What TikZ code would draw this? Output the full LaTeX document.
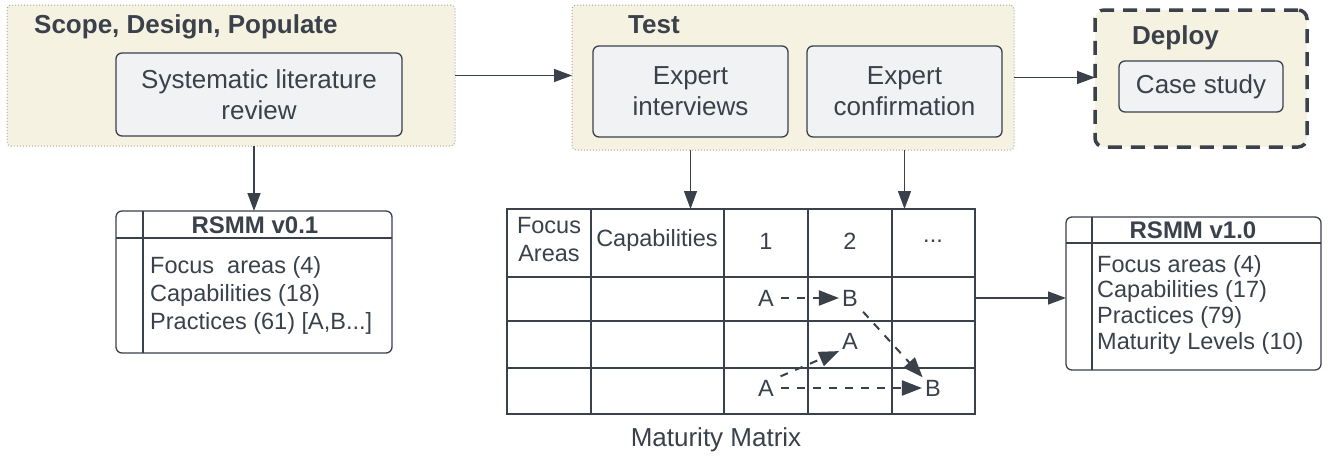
\documentclass[tikz,border=0pt]{standalone}
\usepackage{fontspec}
\setmainfont{Liberation Sans}
\usetikzlibrary{arrows.meta}
\definecolor{ink}{HTML}{3A414A}
\definecolor{stagefill}{HTML}{F6F2E2}
\definecolor{taskfill}{HTML}{F1F2F4}
\tikzset{
	stagebox/.style={draw=gray!70, dotted, fill=stagefill, rounded corners=4pt, line width=1pt, inner sep=0pt, outer sep=0pt},
	deploybox/.style={draw=ink, dash pattern=on 14pt off 9pt, fill=stagefill, rounded corners=9pt, line width=3.5pt, inner sep=0pt, outer sep=0pt},
	taskbox/.style={draw=ink, fill=taskfill, rounded corners=6pt, line width=1.3pt, align=center, text=ink, inner sep=0pt, outer sep=0pt, font=\fontsize{26}{31}\selectfont},
	modelbox/.style={draw=ink, rounded corners=6pt, line width=1.3pt, inner sep=0pt, outer sep=0pt},
	stagetitle/.style={anchor=west, text=ink, inner sep=0pt, font=\fontsize{26}{31}\selectfont\bfseries},
	modeltitle/.style={text=ink, font=\fontsize{24}{28}\selectfont\bfseries},
	modeltext/.style={anchor=north west, align=left, text=ink, inner sep=0pt, font=\fontsize{23.5}{#1}\selectfont},
	celltext/.style={text=ink, align=center, inner sep=1pt, font=\fontsize{23.5}{28}\selectfont},
	flow/.style={draw=ink, line width=1.4pt, -{Triangle[length=18pt,width=13pt]}},
	moveflow/.style={draw=ink, line width=2pt, dash pattern=on 8pt off 8pt, shorten <=6pt, shorten >=2pt, -{Triangle[length=20pt,width=15pt]}}
}
\begin{document}
\begin{tikzpicture}[x=1pt, y=-1pt]
	\useasboundingbox (0,0) rectangle (1335,459);
	\def\grid{2.5}
	
	%stages
	\node (stage1) [stagebox, minimum width=448, minimum height=141] at (231,75.5) {};
	\node (stage2) [stagebox, minimum width=442, minimum height=145] at (793,77.5) {};
	\node (deploy) [deploybox, minimum width=212, minimum height=137] at (1201,78.5) {};
	\node (t1) [stagetitle] at (34,27) {Scope, Design, Populate};
	\node (t2) [stagetitle] at (628,25) {Test};
	\node (t3) [stagetitle] at (1132,38) {Deploy};
	
	%tasks
	\node (slr) [taskbox, minimum width=286, minimum height=83] at (259,94.5) {Systematic literature\\review};
	\node (ei) [taskbox, minimum width=195, minimum height=91] at (690.5,91.5) {Expert\\interviews};
	\node (ec) [taskbox, minimum width=195, minimum height=91] at (904.5,91.5) {Expert\\confirmation};
	\node (cs) [taskbox, minimum width=164, minimum height=51] at (1201,86.5) {Case study};
	
	%model v0.1
	\node (v01) [modelbox, minimum width=276, minimum height=142] at (254,282) {};
	\draw [ink, line width=1.3pt] ([xshift=27]v01.north west) -- ([xshift=27]v01.south west);
	\draw [ink, line width=1.3pt] ([yshift=-27]v01.north west) -- ([yshift=-27]v01.north east);
	\node (v01title) [modeltitle] at (255,225) {RSMM v0.1};
	\node (v01text) [modeltext=28] at (150,256) {Focus\ \ areas (4)\\Capabilities (18)\\Practices (61) [A,B...]};
	
	%model v1.0
	\node (v10) [modelbox, minimum width=255, minimum height=153] at (1193.5,293.5) {};
	\draw [ink, line width=1.3pt] ([xshift=26]v10.north west) -- ([xshift=26]v10.south west);
	\draw [ink, line width=1.3pt] ([yshift=-26]v10.north west) -- ([yshift=-26]v10.north east);
	\node (v10title) [modeltitle] at (1193,230) {RSMM v1.0};
	\node (v10text) [modeltext=25.7] at (1097,255) {Focus areas (4)\\Capabilities (17)\\Practices (79)\\Maturity Levels (10)};
	
	%maturity matrix
	\node (mm) [draw=ink, line width=\grid pt, inner sep=0pt, outer sep=0pt, minimum width=468, minimum height=205] at (741,311.5) {};
	\foreach \x in {591,724,892} \draw [ink, line width=\grid pt] (\x,209) -- (\x,414);
	\draw [ink, line width=1.5pt] (808,209) -- (808,414);
	\foreach \y in {277,321,368} \draw [ink, line width=\grid pt] (507,\y) -- (975,\y);
	\node (hfa) [celltext] at (549,240) {Focus\\Areas};
	\node (hcap) [celltext] at (657,240) {Capabilities};
	\node (h1) [celltext] at (766,241) {1};
	\node (h2) [celltext] at (850,241) {2};
	\node (h3) [celltext] at (933,241) {...};
	\node (a1) [celltext] at (766,298) {A};
	\node (b1) [celltext] at (850,298) {B};
	\node (a2) [celltext] at (850,341) {A};
	\node (a3) [celltext] at (766,388) {A};
	\node (b3) [celltext] at (933,388) {B};
	\node (mmlabel) [celltext, font=\fontsize{26}{31}\selectfont] at (716,440) {Maturity Matrix};
	\draw [moveflow] (a1.east) -- (b1.west);
	\draw [moveflow] (b1.south east) -- (b3.north west);
	\draw [moveflow] (a3.north east) -- (a2.south west);
	\draw [moveflow] (a3.east) -- (b3.west);
	
	%flows
	\draw [flow] (stage1.east) -- (stage1.east -| stage2.west);
	\draw [flow] (stage2.east) -- (stage2.east -| deploy.west);
	\draw [flow] (v01.north |- stage1.south) -- (v01.north);
	\draw [flow] (ei.south |- stage2.south) -- (ei.south |- mm.north);
	\draw [flow] (ec.south |- stage2.south) -- (ec.south |- mm.north);
	\draw [flow] (mm.east |- b1) -- (v10.west |- b1);
\end{tikzpicture}
\end{document}
